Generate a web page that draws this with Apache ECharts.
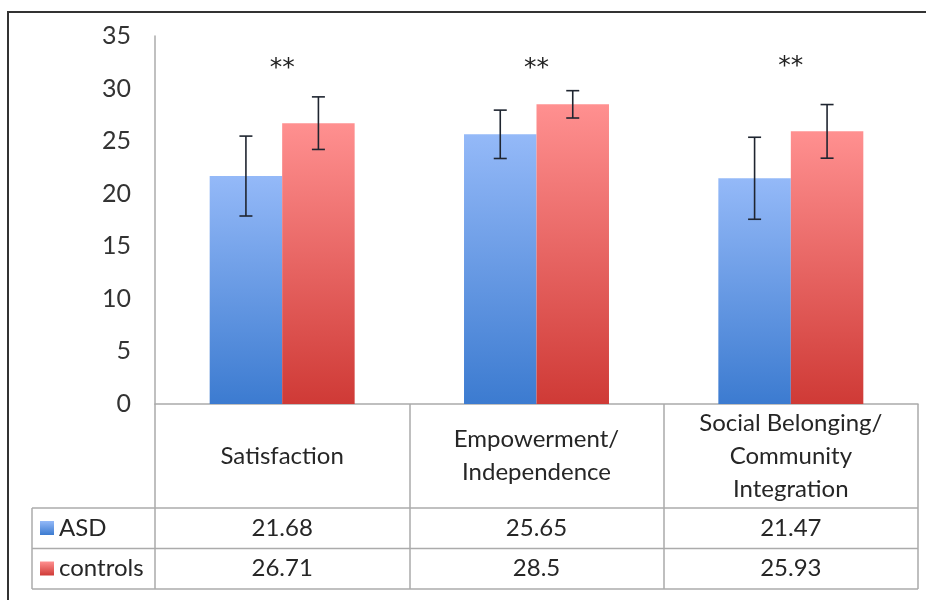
<!DOCTYPE html>
<html>
<head>
<meta charset="utf-8">
<script src="https://cdn.jsdelivr.net/npm/echarts@6/dist/echarts.min.js"></script>
<style>
html,body{margin:0;padding:0;background:#fff;}
#c{width:926px;height:600px;}
</style>
</head>
<body>
<div id="c"></div>
<script>
// ---- data ----
const categories = ['Satisfaction', 'Empowerment/\nIndependence', 'Social Belonging/\nCommunity\nIntegration'];
const seriesNames = ['ASD', 'controls'];
const asdValues = [21.68, 25.65, 21.47];
const controlValues = [26.71, 28.5, 25.93];
const asdErr = [3.8, 2.3, 3.9];
const controlErr = [2.5, 1.3, 2.55];
const sigLabels = ['**', '**', '**'];
const sigY = [31.9, 31.9, 32.1];
const asdLabels = ['21.68', '25.65', '21.47'];
const controlLabels = ['26.71', '28.5', '25.93'];

// ---- style ----
const FONT = 'Lato';
const GAP = 0.43;
const gridC = '#ababab';
const blueGrad = new echarts.graphic.LinearGradient(0, 0, 0, 1, [
  { offset: 0, color: '#94b9f8' }, { offset: 1, color: '#3c7bd0' }]);
const redGrad = new echarts.graphic.LinearGradient(0, 0, 0, 1, [
  { offset: 0, color: '#ff9090' }, { offset: 1, color: '#cf3a36' }]);

function errData(vals, errs) {
  return vals.map((v, i) => [i, v - errs[i], v + errs[i]]);
}
function errRender(side) {
  return function (params, api) {
    const ci = api.value(0);
    const lo = api.coord([ci, api.value(1)]);
    const hi = api.coord([ci, api.value(2)]);
    const catW = api.size([1, 0])[0];
    const barW = catW * (1 - GAP) / 2;
    const x = lo[0] + side * barW / 2;
    const cap = 6.5;
    const st = { stroke: '#1f2530', lineWidth: 1.6 };
    return {
      type: 'group',
      children: [
        { type: 'line', shape: { x1: x, y1: lo[1], x2: x, y2: hi[1] }, style: st },
        { type: 'line', shape: { x1: x - cap, y1: lo[1], x2: x + cap, y2: lo[1] }, style: st },
        { type: 'line', shape: { x1: x - cap, y1: hi[1], x2: x + cap, y2: hi[1] }, style: st }
      ]
    };
  };
}

const chart = echarts.init(document.getElementById('c'));
const option = {
  animation: false,
  backgroundColor: '#fff',
  textStyle: { fontFamily: FONT },
  grid: { left: 155, right: 8, top: 36, bottom: 196, containLabel: false },
  legend: {
    data: seriesNames,
    orient: 'vertical',
    left: 40, top: 516, padding: 0,
    itemWidth: 14, itemHeight: 14, itemGap: 16.5,
    icon: 'rect',
    selectedMode: false,
    textStyle: { fontFamily: FONT, fontSize: 24, lineHeight: 24, color: '#262626', padding: [0, 0, 0, 0] }
  },
  xAxis: [
    {
      type: 'category', data: categories, position: 'bottom',
      axisLine: { show: true, lineStyle: { color: gridC, width: 1.5 } },
      axisTick: { show: true, length: 185, interval: 0, lineStyle: { color: gridC, width: 1.5 } },
      axisLabel: { interval: 0, margin: 52, verticalAlign: 'middle', fontFamily: FONT, fontSize: 24, lineHeight: 33, color: '#262626', align: 'center' }
    },
    {
      type: 'category', data: categories, position: 'bottom',
      axisLine: { show: false }, axisTick: { show: false },
      axisLabel: { interval: 0, margin: 124, verticalAlign: 'middle', fontFamily: FONT, fontSize: 24, color: '#262626',
        formatter: (v, i) => asdLabels[i] }
    },
    {
      type: 'category', data: categories, position: 'bottom',
      axisLine: { show: false }, axisTick: { show: false },
      axisLabel: { interval: 0, margin: 164.5, verticalAlign: 'middle', fontFamily: FONT, fontSize: 24, color: '#262626',
        formatter: (v, i) => controlLabels[i] }
    }
  ],
  yAxis: {
    type: 'value', min: 0, max: 35, interval: 5,
    axisLine: { show: true, lineStyle: { color: gridC, width: 1.5 } },
    axisTick: { show: false },
    splitLine: { show: false },
    axisLabel: { margin: 24, fontFamily: FONT, fontSize: 25, color: '#333' }
  },
  series: [
    { name: 'ASD', type: 'bar', data: asdValues, barGap: '0%', barCategoryGap: (GAP * 100) + '%',
      itemStyle: { color: blueGrad } },
    { name: 'controls', type: 'bar', data: controlValues, barGap: '0%', barCategoryGap: (GAP * 100) + '%',
      itemStyle: { color: redGrad } },
    { type: 'custom', name: 'errASD', data: errData(asdValues, asdErr), renderItem: errRender(-1), z: 5,
      encode: { x: 0, y: [1, 2] } },
    { type: 'custom', name: 'errCtrl', data: errData(controlValues, controlErr), renderItem: errRender(1), z: 5,
      encode: { x: 0, y: [1, 2] } },
    { type: 'custom', name: 'sig', data: sigLabels.map((s, i) => [i, sigY[i]]), z: 6,
      encode: { x: 0, y: 1 },
      renderItem: function (params, api) {
        const p = api.coord([api.value(0), api.value(1)]);
        return { type: 'text', style: { x: p[0], y: p[1], text: sigLabels[params.dataIndex], fill: '#222',
          font: '25px "DejaVu Sans"', align: 'center', verticalAlign: 'middle' } };
      } }
  ],
  graphic: [
    { type: 'rect', shape: { x: 8, y: 12, width: 1000, height: 700 }, style: { fill: 'none', stroke: '#333', lineWidth: 2 }, silent: true },
    { type: 'line', shape: { x1: 32, y1: 508, x2: 918, y2: 508 }, style: { stroke: gridC, lineWidth: 1.5 } },
    { type: 'line', shape: { x1: 32, y1: 548.5, x2: 918, y2: 548.5 }, style: { stroke: gridC, lineWidth: 1.5 } },
    { type: 'line', shape: { x1: 32, y1: 589, x2: 918, y2: 589 }, style: { stroke: gridC, lineWidth: 1.5 } },
    { type: 'line', shape: { x1: 32, y1: 508, x2: 32, y2: 589 }, style: { stroke: gridC, lineWidth: 1.5 } }
  ]
};
chart.setOption(option);
</script>
</body>
</html>
